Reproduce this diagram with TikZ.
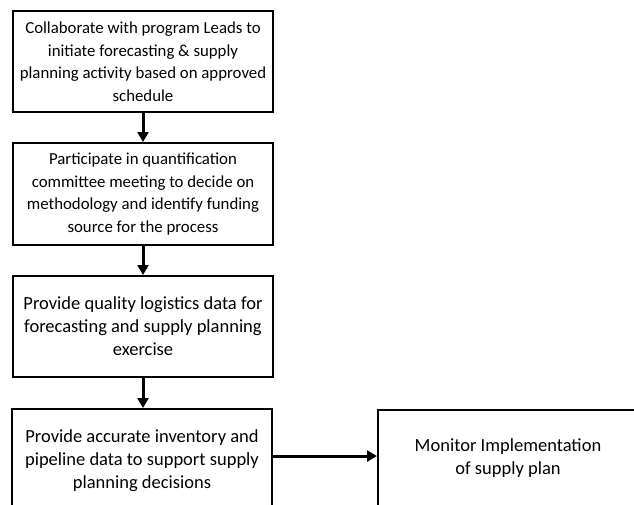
\documentclass[tikz,border=0pt]{standalone}
\usepackage{fontspec}
\setmainfont{Carlito}
\usetikzlibrary{arrows.meta}
\begin{document}
\begin{tikzpicture}[x=1pt,y=-1pt,
  stepbox/.style={draw=black, line width=2pt, fill=white, inner sep=0pt, align=center},
  smalltext/.style={font=\fontsize{16.8}{22.5}\selectfont},
  bigtext/.style={font=\fontsize{18.5}{23}\selectfont},
  flow/.style={line width=3pt, -{Triangle[length=10pt,width=11pt]}}]
\useasboundingbox (0,0) rectangle (634,504);
\node[stepbox, smalltext, minimum width=260pt, minimum height=101pt] (b1) at (143,61.5)
  {Collaborate with program Leads to\\initiate forecasting \& supply\\planning activity based on approved\\schedule};
\node[stepbox, smalltext, minimum width=260pt, minimum height=102pt] (b2) at (143,194)
  {Participate in quantification\\committee meeting to decide on\\methodology and identify funding\\source for the process};
\node[stepbox, bigtext, minimum width=260pt, minimum height=101pt] (b3) at (143,326.5)
  {Provide quality logistics data for\\forecasting and supply planning\\exercise};
\node[stepbox, bigtext, minimum width=260pt, minimum height=104pt] (b4) at (142,461)
  {Provide accurate inventory and\\pipeline data to support supply\\planning decisions};
\node[stepbox, bigtext, minimum width=260pt, minimum height=96pt] (b5) at (508,458)
  {Monitor Implementation\\of supply plan};
\coordinate (a4) at ([yshift=-48pt]b4.north east);
\draw[flow] (b1.south) -- (b2.north);
\draw[flow] (b2.south) -- (b3.north);
\draw[flow] (b3.south) -- (b3.south |- b4.north);
\draw[flow] (a4) -- (a4 -| b5.west);
\end{tikzpicture}
\end{document}
